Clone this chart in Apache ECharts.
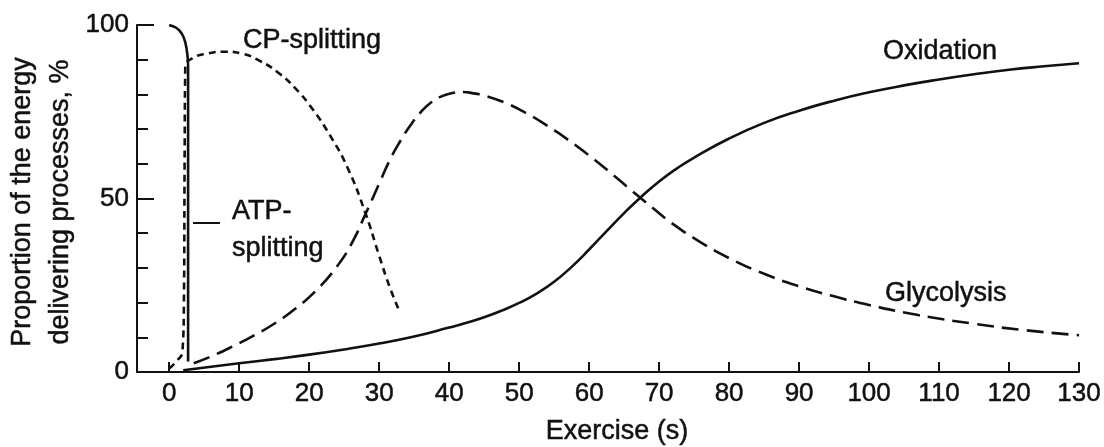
<!DOCTYPE html>
<html>
<head>
<meta charset="utf-8">
<script src="https://cdn.jsdelivr.net/npm/echarts@6/dist/echarts.min.js"></script>
<style>
  html, body { margin: 0; padding: 0; background: #fff; }
  #chart { width: 1104px; height: 447px; }
</style>
</head>
<body>
<div id="chart"></div>
<script>
// ---- data ----
const xTicks = [0, 10, 20, 30, 40, 50, 60, 70, 80, 90, 100, 110, 120, 130];
const yMajorTicks = [0, 50, 100];

const atpSplitting = [[0, 100], [1, 99.2], [1.8, 97.5], [2.3, 95], [2.6, 91.5], [2.7, 88], [2.7, 50], [2.7, 3]];

const cpSplitting = [[0, 1], [1, 3], [1.9, 6], [2.1, 20], [2.2, 60], [2.3, 88], [3.4, 90.5], [5.5, 91.8],
  [8, 92.3], [10.5, 91.7], [13, 89.6], [15.5, 86.4], [18, 81.8], [20.5, 75.7], [23, 68.1], [25.5, 58.8],
  [28, 46], [30, 33.5], [31.5, 24.5], [33, 17]];

const glycolysis = [[3.5, 2.5], [6, 4.5], [9, 7.3], [12, 10.4], [15, 13.9], [18, 18.2], [21, 23.5], [24, 30.5],
  [26, 36.8], [28, 45.3], [30, 54.3], [31.5, 61], [33, 66.5], [34.5, 71.2], [36, 75], [37.5, 77.8], [39, 79.5],
  [40.5, 80.4], [42, 80.7], [43.5, 80.3], [45, 79.7], [48, 77.6], [51, 74.6], [54, 71], [57, 66.9], [60, 62.4],
  [63, 57.5], [66, 52.4], [69, 47.4], [72, 42.6], [76, 37.3], [80, 32.8], [85, 28.3], [90, 24.7], [95, 21.8],
  [100, 19.3], [107, 16.4], [115, 13.9], [122, 12.1], [130, 10.6]];

const oxidation = [[2, 0.5], [6, 1.5], [10, 2.5], [15, 3.7], [20, 5], [25, 6.5], [30, 8.2], [35, 10.2],
  [40, 12.8], [42.5, 14.2], [45, 15.8], [47.5, 17.7], [50, 19.9], [52.5, 22.6], [55, 26], [57.5, 30.3],
  [60, 35.3], [62.5, 40.6], [65, 45.8], [67.5, 50.6], [70, 54.9], [72.5, 58.6], [75, 61.8], [80, 67.3],
  [85, 71.8], [90, 75.3], [95, 78.2], [100, 80.6], [105, 82.6], [110, 84.3], [115, 85.8], [120, 87.1],
  [125, 88.1], [130, 89]];

const seriesNames = ['ATP-splitting', 'CP-splitting', 'Glycolysis', 'Oxidation'];
const xAxisTitle = 'Exercise (s)';
const yAxisTitle = 'Proportion of the energy\ndelivering processes, %';

// ---- chart ----
const FONT = '"Liberation Sans", Arial, Helvetica, sans-serif';
const INK = '#111';
const chart = echarts.init(document.getElementById('chart'), null, { renderer: 'canvas' });

function lineSeries(name, data, dash, smooth) {
  return {
    name: name, type: 'line', data: data, xAxisIndex: 0, yAxisIndex: 0,
    showSymbol: false, symbol: 'none', smooth: smooth, silent: true,
    lineStyle: { color: INK, width: 2.6, type: dash, cap: 'butt' },
    z: 3
  };
}

const txt = (text, x, y, size, align) => ({
  type: 'text', x: x, y: y, silent: true,
  style: {
    text: text, fill: INK, font: size + 'px ' + FONT, textAlign: align || 'left', textVerticalAlign: 'middle',
    stroke: INK, lineWidth: 0.5
  }
});

const labelStyle = { color: INK, fontSize: 26, fontFamily: FONT, textBorderColor: INK, textBorderWidth: 0.5 };

chart.setOption({
  backgroundColor: '#ffffff',
  animation: false,
  grid: { left: 137, right: 24, top: 25, bottom: 75, containLabel: false },
  xAxis: {
    type: 'value', min: -4.6, max: 130,
    axisLine: { show: true, onZero: false, lineStyle: { color: INK, width: 2 } },
    axisTick: { show: true, inside: true, length: 10, customValues: xTicks, lineStyle: { color: INK, width: 2 } },
    axisLabel: Object.assign({ show: true, customValues: xTicks, margin: 9 }, labelStyle),
    splitLine: { show: false }
  },
  yAxis: [
    {
      type: 'value', min: 0, max: 100, interval: 50, position: 'left',
      axisLine: { show: true, onZero: false, lineStyle: { color: INK, width: 2 } },
      axisTick: { show: true, inside: true, length: 17, lineStyle: { color: INK, width: 2 } },
      axisLabel: Object.assign({ show: true, margin: 8 }, labelStyle),
      splitLine: { show: false }
    },
    {
      type: 'value', min: 0, max: 100, interval: 10, position: 'left',
      axisLine: { show: false, onZero: false },
      axisTick: { show: true, inside: true, length: 11, lineStyle: { color: INK, width: 2 } },
      axisLabel: { show: false },
      splitLine: { show: false }
    }
  ],
  series: [
    lineSeries(seriesNames[0], atpSplitting, 'solid', 0.3),
    lineSeries(seriesNames[1], cpSplitting, [7, 5], 0.5),
    lineSeries(seriesNames[2], glycolysis, [17, 8], 0.5),
    lineSeries(seriesNames[3], oxidation, 'solid', 0.5)
  ],
  graphic: [
    txt(seriesNames[1], 243, 41, 27),
    txt(seriesNames[3], 883, 52, 27),
    txt('ATP-', 232, 212, 27),
    txt('splitting', 232, 249, 27),
    txt(seriesNames[2], 885, 294, 27),
    { type: 'line', silent: true, shape: { x1: 193, y1: 223, x2: 220, y2: 223 }, style: { stroke: INK, lineWidth: 2 } },
    txt(xAxisTitle, 617, 432, 27, 'center'),
    {
      type: 'text', x: 42, y: 202, rotation: Math.PI / 2, silent: true,
      style: { text: yAxisTitle, fill: INK, font: '27px ' + FONT, lineHeight: 38, textAlign: 'center', textVerticalAlign: 'middle', stroke: INK, lineWidth: 0.5 }
    }
  ]
});
</script>
</body>
</html>
